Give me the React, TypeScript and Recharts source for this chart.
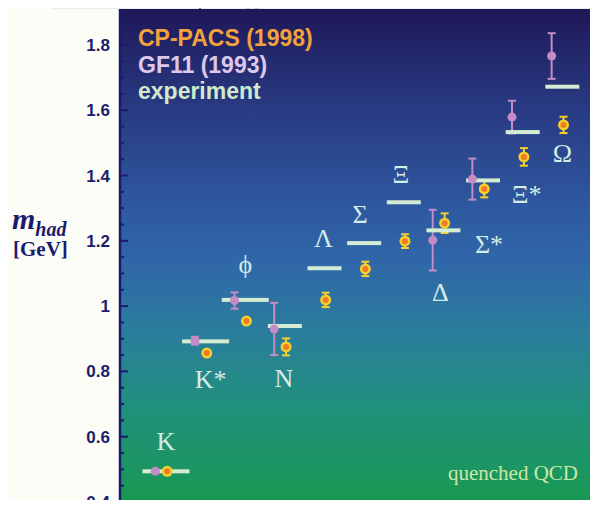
import React from "react";
import {
  ComposedChart,
  Scatter,
  XAxis,
  YAxis,
  CartesianGrid,
  ErrorBar,
  Legend,
} from "recharts";

// light hadron spectrum, quenched lattice QCD vs experiment (GeV)
const HADRONS = ["K", "K*", "ϕ", "N", "Λ", "Σ", "Ξ", "Δ", "Σ*", "Ξ*", "Ω"];
const MESONS = ["K", "K*", "ϕ"];
const EXPERIMENT = [0.494, 0.892, 1.019, 0.939, 1.116, 1.193, 1.318, 1.232, 1.385, 1.533, 1.672];
const CPPACS = [0.494, 0.856, 0.954, 0.875, 1.019, 1.114, 1.199, 1.254, 1.359, 1.457, 1.555];
const CPPACS_ERR = [0, 0, 0, 0.026, 0.022, 0.022, 0.021, 0.03, 0.026, 0.027, 0.025];
const GF11 = [0.494, 0.894, 1.017, 0.93, null, null, null, 1.202, 1.389, 1.579, 1.766];
const GF11_ERR = [0, 0.012, 0.025, 0.08, null, null, null, 0.093, 0.063, 0.05, 0.07];
const Y_TICKS = [0.4, 0.6, 0.8, 1, 1.2, 1.4, 1.6, 1.8];

const NAVY = "#1c1c6e";
const EXP_COLOR = "#d4ecd4";
const GF_COLOR = "#c48cc4";
const CP_RING = "#f4d02c";
const CP_CORE = "#f07828";

const SERIES = {
  cp: "CP-PACS (1998)",
  gf: "GF11 (1993)",
  exp: "experiment",
};
const LEGEND_ORDER = [SERIES.cp, SERIES.gf, SERIES.exp];
const LEGEND_COLORS: Record<string, string> = {
  [SERIES.cp]: "#f2a23c",
  [SERIES.gf]: "#dcc8ea",
  [SERIES.exp]: "#cfe9cc",
};

// where each hadron name sits relative to its experimental bar (px)
const NAME_OFFSET: Record<string, [number, number]> = {
  K: [0, -21],
  "K*": [5, 47],
  ϕ: [0, -27],
  N: [-1, 61],
  Λ: [-1, -21],
  Σ: [-4, -20],
  Ξ: [-3, -19],
  Δ: [-3, 71],
  "Σ*": [6, 73],
  "Ξ*": [4, 71],
  Ω: [0, 75],
};

const GF_SHIFT = -0.27;
const CP_SHIFT = 0.03;

const expData = HADRONS.map((name, i) => ({ x: i, y: EXPERIMENT[i], name }));
const cpData = HADRONS.map((name, i) => ({
  x: i + CP_SHIFT,
  y: CPPACS[i],
  err: CPPACS_ERR[i],
  name,
}));
const gfData = HADRONS.map((name, i) => ({
  x: i + GF_SHIFT,
  y: GF11[i],
  err: GF11_ERR[i],
  name,
})).filter((d) => d.y !== null);

// minor ticks every 0.05 GeV, labels only on the majors
const ALL_TICKS: number[] = [];
for (let k = 0; k <= 30; k++) ALL_TICKS.push(Math.round((0.4 + k * 0.05) * 100) / 100);
const isMajor = (v: number) => Y_TICKS.some((t) => Math.abs(t - v) < 1e-6);

const LeftTick = (props: any) => {
  const { x, y, payload } = props;
  const major = isMajor(payload.value);
  return (
    <g>
      <line x1={x} x2={x + (major ? 8 : 4)} y1={y} y2={y} stroke={NAVY} strokeWidth={2} />
      {major && (
        <text
          x={x - 10}
          y={y}
          dy={6}
          textAnchor="end"
          fill={NAVY}
          fontSize={17}
          fontWeight="bold"
          fontFamily="Liberation Sans, Arial, sans-serif"
        >
          {String(payload.value)}
        </text>
      )}
    </g>
  );
};

const RightTick = (props: any) => {
  const { x, y, payload } = props;
  const major = isMajor(payload.value);
  return <line x1={x} x2={x - (major ? 8 : 4)} y1={y} y2={y} stroke={NAVY} strokeWidth={2} />;
};

const ExpBar = (props: any) => {
  const { cx, cy, payload } = props;
  const w = MESONS.includes(payload.name) ? 47 : 34;
  const [dx, dy] = NAME_OFFSET[payload.name] ?? [0, 0];
  return (
    <g>
      <rect x={cx - w / 2} y={cy - 2} width={w} height={4} fill={EXP_COLOR} />
      <text
        x={cx + dx}
        y={cy + dy}
        textAnchor="middle"
        fill="#d2ece6"
        fontSize={26}
        fontFamily="Liberation Serif, Times New Roman, serif"
      >
        {payload.name}
      </text>
    </g>
  );
};

const CpDot = (props: any) => {
  const { cx, cy } = props;
  return (
    <g>
      <circle cx={cx} cy={cy} r={5.5} fill={CP_RING} />
      <circle cx={cx} cy={cy} r={3} fill={CP_CORE} />
    </g>
  );
};

const GfDot = (props: any) => {
  const { cx, cy } = props;
  return <circle cx={cx} cy={cy} r={4.5} fill={GF_COLOR} />;
};

const AxisTitle = (props: any) => {
  const { viewBox } = props;
  const mid = viewBox.y + viewBox.height / 2;
  return (
    <g fill={NAVY} fontFamily="Liberation Serif, Times New Roman, serif" fontWeight="bold">
      <text x={12} y={mid - 27} fontStyle="italic">
        <tspan fontSize={30}>m</tspan>
        <tspan fontSize={20} dy={7}>
          had
        </tspan>
      </text>
      <text x={13} y={mid} fontSize={21}>
        [GeV]
      </text>
    </g>
  );
};

const LegendBlock = (props: any) => {
  const entries = [...(props.payload ?? [])].sort(
    (a: any, b: any) => LEGEND_ORDER.indexOf(a.value) - LEGEND_ORDER.indexOf(b.value)
  );
  return (
    <div
      style={{
        fontFamily: "Liberation Sans, Arial, sans-serif",
        fontWeight: "bold",
        fontSize: 23,
        lineHeight: "26.5px",
        whiteSpace: "nowrap",
      }}
    >
      {entries.map((e: any) => (
        <div key={e.value} style={{ color: LEGEND_COLORS[e.value] }}>
          {e.value}
        </div>
      ))}
    </div>
  );
};

export default function App() {
  return (
    <div style={{ margin: -8, width: 598, height: 508, position: "relative", background: "#fdfdf7" }}>
      <svg width={598} height={9} style={{ position: "absolute", left: 0, top: 0 }}>
        <rect x={52} y={0} width={546} height={9} fill="#ececea" />
        <line x1={107} y1={0} x2={107} y2={8} stroke="#333" strokeWidth={2} />
        <line x1={200} y1={2} x2={200} y2={9} stroke="#444" strokeWidth={1.5} />
        <path d="M218 3 Q 255 12 292 2" stroke="#555" strokeWidth={2} strokeDasharray="5 4" fill="none" />
        <path d="M352 2 Q 380 10 412 2 L 412 0 L 352 0 Z" fill="#222" />
      </svg>
      <ComposedChart width={598} height={508} margin={{ top: 9, right: 0, bottom: 0, left: 0 }}>
        <defs>
          <linearGradient id="bgGrad" x1="0" y1="0" x2="0" y2="1">
            <stop offset="0%" stopColor="#1f1858" />
            <stop offset="20%" stopColor="#283a82" />
            <stop offset="40%" stopColor="#2e58a0" />
            <stop offset="52%" stopColor="#3068a8" />
            <stop offset="66%" stopColor="#2a7e9c" />
            <stop offset="80%" stopColor="#218f7e" />
            <stop offset="94%" stopColor="#1b9660" />
            <stop offset="100%" stopColor="#17994f" />
          </linearGradient>
        </defs>
        <CartesianGrid fill="url(#bgGrad)" stroke="none" horizontal={false} vertical={false} />
        <XAxis
          type="number"
          dataKey="x"
          domain={[-1.16, 10.9]}
          allowDataOverflow
          tick={false}
          tickLine={false}
          height={6}
          axisLine={{ stroke: NAVY, strokeWidth: 3 }}
        />
        <YAxis
          type="number"
          dataKey="y"
          domain={[0.4, 1.91]}
          allowDataOverflow
          ticks={ALL_TICKS}
          interval={0}
          width={120}
          tickSize={0}
          tickMargin={0}
          tickLine={false}
          tick={LeftTick}
          axisLine={{ stroke: NAVY, strokeWidth: 2.5 }}
          label={AxisTitle}
        />
        <YAxis
          yAxisId="right"
          orientation="right"
          mirror
          type="number"
          domain={[0.4, 1.91]}
          allowDataOverflow
          ticks={ALL_TICKS}
          interval={0}
          width={1}
          tickSize={0}
          tickMargin={0}
          tickLine={false}
          tick={RightTick}
          axisLine={false}
        />
        <Legend
          layout="vertical"
          align="center"
          verticalAlign="middle"
          wrapperStyle={{ left: 138, top: 25, width: "auto", height: "auto" }}
          content={LegendBlock}
        />
        <Scatter
          name={SERIES.exp}
          data={expData}
          fill={EXP_COLOR}
          shape={ExpBar}
          isAnimationActive={false}
        />
        <Scatter name={SERIES.gf} data={gfData} fill={GF_COLOR} shape={GfDot} isAnimationActive={false}>
          <ErrorBar dataKey="err" direction="y" width={4} strokeWidth={2} stroke={GF_COLOR} isAnimationActive={false} />
        </Scatter>
        <Scatter name={SERIES.cp} data={cpData} fill={CP_RING} shape={CpDot} isAnimationActive={false}>
          <ErrorBar dataKey="err" direction="y" width={4} strokeWidth={2} stroke={CP_RING} isAnimationActive={false} />
        </Scatter>
        <text
          x={578}
          y={480}
          textAnchor="end"
          fill="#cce8a8"
          fontSize={21}
          fontFamily="Liberation Serif, Times New Roman, serif"
        >
          quenched QCD
        </text>
      </ComposedChart>
    </div>
  );
}
